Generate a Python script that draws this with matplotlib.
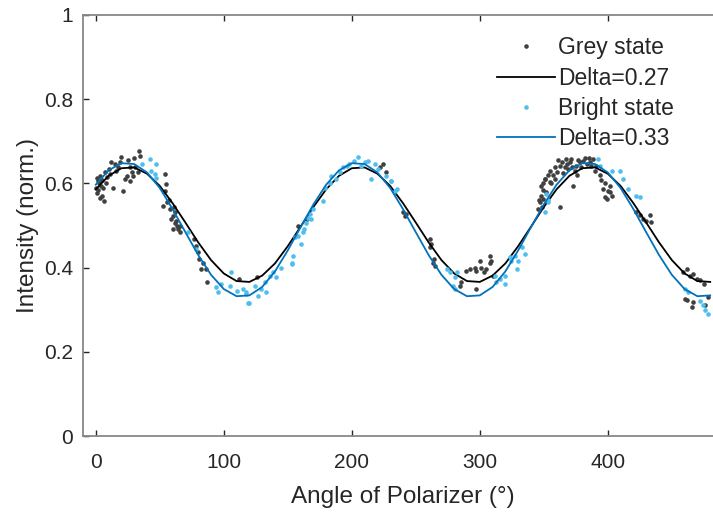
import numpy as np
import matplotlib
matplotlib.use("Agg")
import matplotlib.pyplot as plt

plt.rcParams['font.family'] = ['Liberation Sans', 'DejaVu Sans']

# measured points, grey state
grey_x = [0.5, 1, 2.6, 3.6, 5.2, 6.3, 7, 1.5, 4, 8, 12, 13.5, 16, 19, 20, 21, 23, 24,
          26.5, 28, 29, 34, 34.4, 33, 31, 54, 55, 54, 52.6, 55.7, 58, 60, 61.7, 63, 64,
          60, 65.6, 57, 62, 77, 78.6, 80, 81, 82.5, 86, 86.5, 84, 112, 126, 158, 165,
          224.5, 227, 222, 240, 241.4, 242.5, 261, 262.2, 261, 263.5, 265, 264,
          285.7, 284.4, 289.6, 292, 296, 297.4, 300, 301.3, 305, 307.8, 309, 307.8,
          310.4, 297.4, 303, 345.6, 347, 348, 349.5, 350.8, 346, 348.5, 349,
          348, 349.5, 351, 352, 354.7, 357, 358.6, 360, 362.5, 364, 366.4, 367.7,
          370.3, 371.6, 373, 374.2, 375.5, 378, 380.7, 383.4, 386, 388.6, 391, 393.8,
          395, 396.4, 397.7, 399, 400, 401.6, 403, 362.5, 369, 382, 376,
          422.4, 425, 427.6, 433, 434, 430, 459, 461.5, 464, 466.7, 469.3, 460,
          461.5, 465.4, 466.7, 472, 475, 478, 476,
          0.8, 2, 3, 5, 6, 9, 10, 11, 15, 17, 25, 27, 30, 59, 61, 63.5, 66,
          353, 355, 356, 359, 361, 365, 368, 372, 377, 379, 385, 387, 390, 398, 402]
grey_y = [0.59, 0.578, 0.602, 0.618, 0.571, 0.559, 0.626, 0.605, 0.595, 0.6, 0.65, 0.59,
          0.63, 0.65, 0.662, 0.583, 0.61, 0.618, 0.606, 0.626, 0.618, 0.677, 0.666,
          0.626, 0.64, 0.622, 0.598, 0.583, 0.547, 0.555, 0.539, 0.523, 0.531, 0.511,
          0.491, 0.491, 0.499, 0.56, 0.505, 0.468, 0.452, 0.436, 0.42, 0.396, 0.396,
          0.366, 0.41, 0.372, 0.378, 0.499, 0.515,
          0.646, 0.626, 0.64, 0.531, 0.523, 0.528, 0.468, 0.456, 0.448, 0.412, 0.404, 0.42,
          0.365, 0.357, 0.393, 0.396, 0.4, 0.393, 0.416, 0.4, 0.396, 0.428, 0.416, 0.412,
          0.381, 0.349, 0.39, 0.539, 0.555, 0.571, 0.602, 0.61, 0.56, 0.545, 0.585,
          0.595, 0.563, 0.61, 0.579, 0.603, 0.619, 0.61, 0.626, 0.642, 0.65, 0.638, 0.658,
          0.65, 0.658, 0.595, 0.63, 0.642, 0.65, 0.654, 0.646, 0.65, 0.658, 0.642, 0.619,
          0.607, 0.587, 0.567, 0.563, 0.583, 0.595, 0.571, 0.543, 0.635, 0.66, 0.62,
          0.531, 0.524, 0.516, 0.524, 0.508, 0.51, 0.389, 0.397, 0.381, 0.385, 0.373, 0.326,
          0.322, 0.306, 0.318, 0.37, 0.36, 0.33, 0.31,
          0.612, 0.585, 0.565, 0.608, 0.588, 0.615, 0.635, 0.622, 0.645, 0.638, 0.655,
          0.64, 0.66, 0.515, 0.545, 0.5, 0.485,
          0.62, 0.63, 0.6, 0.64, 0.655, 0.625, 0.645, 0.64, 0.655, 0.64, 0.66, 0.642,
          0.63, 0.6, 0.58]

# measured points, bright state
bright_x = [42, 46.9, 43.5, 46, 47.4, 36, 72, 78, 94, 95.6, 106, 104.7, 115, 117.7, 119,
            98, 110, 117.7, 120, 124, 127, 129.4, 132, 133, 136, 138.5, 141, 152.9, 154,
            155.5, 158, 160.7, 162, 163, 164.6, 166, 167, 168.5, 177.6, 179, 183, 184,
            190.6, 193, 196, 198, 202, 205, 207.5, 210, 213, 215, 218, 220.6, 227, 231,
            235, 153.6, 145, 170, 188, 231, 233.6, 274, 276.6, 280.5, 281.8, 279, 280.5,
            311.7, 313, 315.6, 319.5, 319.5, 323.5, 324.7, 327.4, 330, 335, 332.6, 328.7,
            352, 353, 392.5, 393.8, 403, 409.4, 412, 416, 422.4, 425, 353.4, 350.8, 460,
            463, 472, 476, 478, 474]
bright_y = [0.657, 0.646, 0.63, 0.622, 0.614, 0.645, 0.485, 0.445, 0.353, 0.341, 0.389,
            0.357, 0.349, 0.337, 0.317, 0.36, 0.345, 0.341, 0.317, 0.357, 0.333, 0.349,
            0.365, 0.341, 0.381, 0.389, 0.377, 0.408, 0.428, 0.472, 0.476, 0.456, 0.484,
            0.491, 0.507, 0.519, 0.527, 0.515, 0.559, 0.59, 0.602, 0.618, 0.626, 0.638,
            0.642, 0.646, 0.654, 0.662, 0.642, 0.65, 0.654, 0.61, 0.646, 0.634, 0.618,
            0.606, 0.586, 0.412, 0.4, 0.54, 0.61, 0.606, 0.582, 0.396, 0.389, 0.377, 0.389,
            0.357, 0.349, 0.381, 0.365, 0.373, 0.381, 0.361, 0.424, 0.416, 0.428, 0.416,
            0.432, 0.448, 0.396, 0.575, 0.56, 0.658, 0.642, 0.63, 0.63, 0.611, 0.587,
            0.571, 0.567, 0.555, 0.531, 0.349, 0.341, 0.32, 0.3, 0.29, 0.31]

# fitted curves read every 10 degrees
fit_x = list(range(0, 490, 10))
fit_grey = [0.586, 0.618, 0.636, 0.638, 0.623, 0.594, 0.553, 0.507, 0.460, 0.418,
            0.386, 0.368, 0.366, 0.381, 0.410, 0.451, 0.497, 0.544,
            0.586, 0.618, 0.636, 0.638, 0.623, 0.594, 0.553, 0.507, 0.460, 0.418,
            0.386, 0.368, 0.366, 0.381, 0.410, 0.451, 0.497, 0.544,
            0.586, 0.618, 0.636, 0.638, 0.623, 0.594, 0.553, 0.507, 0.460, 0.418,
            0.386, 0.368, 0.366]
fit_bright = [0.597, 0.631, 0.648, 0.646, 0.626, 0.589, 0.539, 0.484, 0.430, 0.383,
              0.349, 0.332, 0.334, 0.354, 0.391, 0.441, 0.496, 0.550,
              0.597, 0.631, 0.648, 0.646, 0.626, 0.589, 0.539, 0.484, 0.430, 0.383,
              0.349, 0.332, 0.334, 0.354, 0.391, 0.441, 0.496, 0.550,
              0.597, 0.631, 0.648, 0.646, 0.626, 0.589, 0.539, 0.484, 0.430, 0.383,
              0.349, 0.332, 0.334]

fig = plt.figure(figsize=(7.13, 5.16), dpi=100)
ax = fig.add_axes([83 / 713, 80 / 516, 640 / 713, 421 / 516])

ax.plot(grey_x, grey_y, 'o', color='#404040', ms=3.3, mew=0, label='Grey state')
ax.plot(fit_x, fit_grey, '-', color='black', lw=1.3, label='Delta=0.27')
ax.plot(bright_x, bright_y, 'o', color='#4DBEEE', ms=3.3, mew=0, label='Bright state')
ax.plot(fit_x, fit_bright, '-', color='#0072BD', lw=1.3, label='Delta=0.33')

ax.set_xlim(-10, 490)
ax.set_ylim(0, 1)
ax.set_xticks([0, 100, 200, 300, 400])
ax.set_yticks([0, 0.2, 0.4, 0.6, 0.8, 1])
ax.set_yticklabels(['0', '0.2', '0.4', '0.6', '0.8', '1'])
ax.tick_params(direction='in', length=4, width=1, colors='#262626', labelsize=15,
               top=True, right=True)
ax.tick_params(axis='x', pad=12)
ax.tick_params(axis='y', pad=7)
for s in ax.spines.values():
    s.set_color('#888888')
    s.set_linewidth(1.3)

ax.set_xlabel('Angle of Polarizer (°)', fontsize=17.5, color='#262626', labelpad=10)
ax.set_ylabel('Intensity (norm.)', fontsize=17.5, color='#262626', labelpad=4)

leg = ax.legend(loc='upper left', bbox_to_anchor=(486 / 713, 1 - 25 / 516),
                bbox_transform=fig.transFigure, frameon=False, fontsize=16.5,
                borderpad=0, handlelength=2.5, handletextpad=0.15,
                labelspacing=0.32, numpoints=1)
for t in leg.get_texts():
    t.set_color('#262626')

fig.savefig('out.png', dpi=100)
